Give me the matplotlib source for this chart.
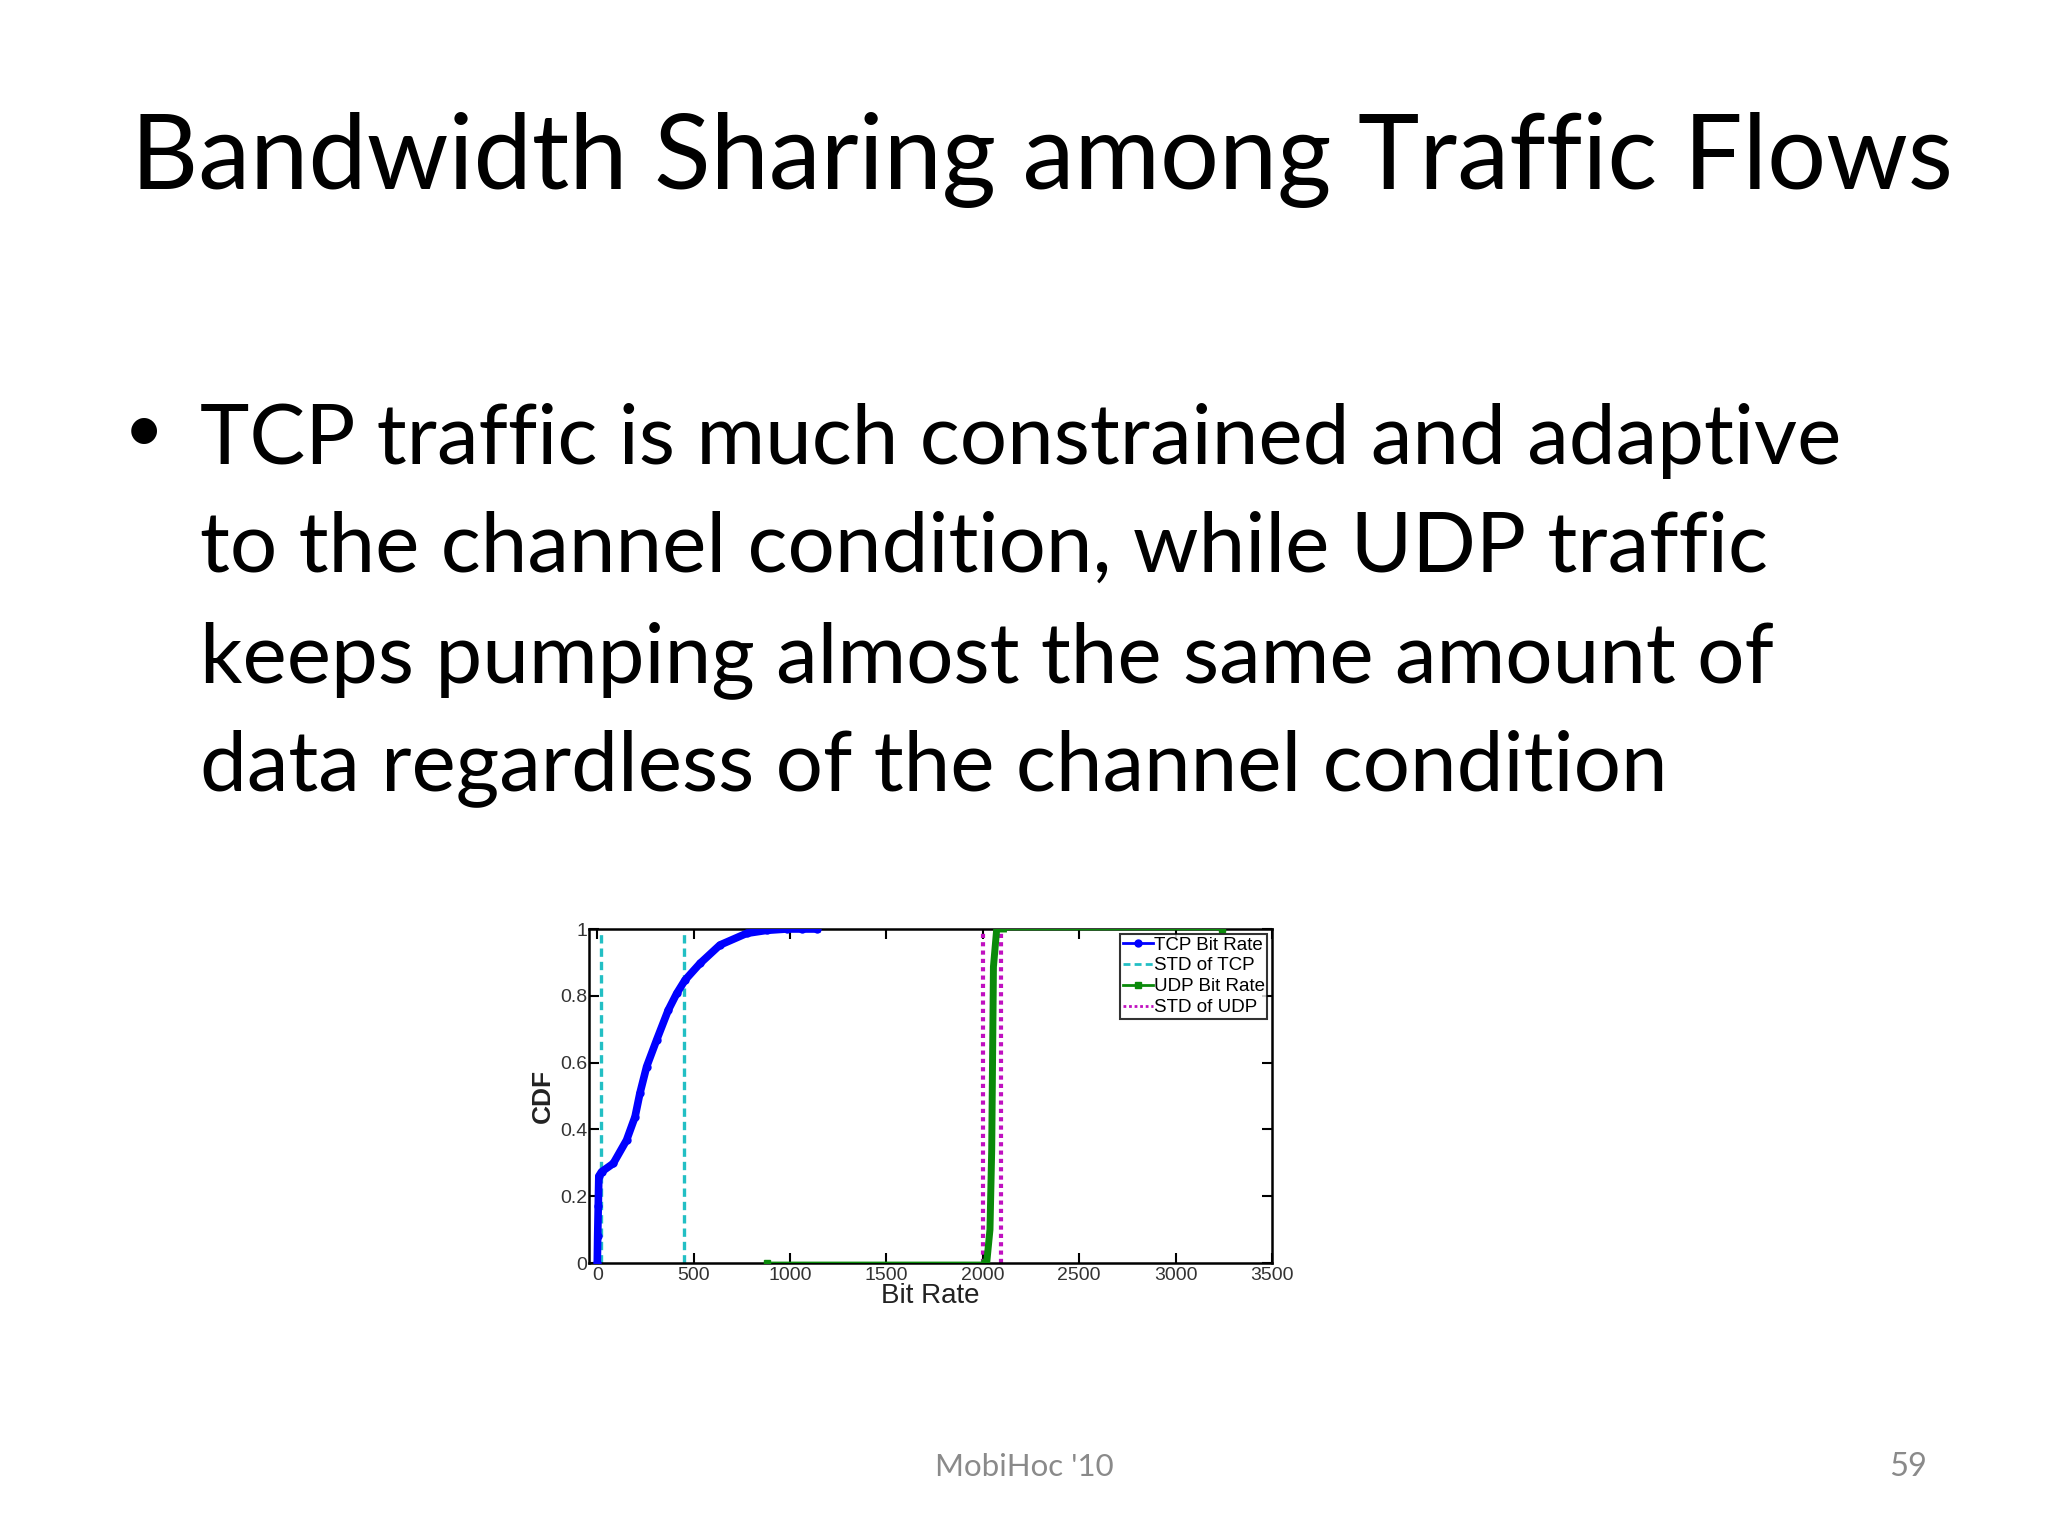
import matplotlib
matplotlib.use("Agg")
import matplotlib.pyplot as plt

# ---- data ----
tcp_x = [0, 2, 5, 8, 22, 83, 152, 196, 221, 256, 308, 368, 412, 455, 533, 636, 775, 879, 982, 1060, 1138]
tcp_y = [0.0, 0.08, 0.17, 0.26, 0.273, 0.298, 0.368, 0.438, 0.508, 0.588, 0.668, 0.757, 0.807, 0.847, 0.897, 0.952, 0.987, 0.996, 1.0, 1.0, 1.0]
tcp_std = [20, 450]
udp_x = [880, 2010, 2020, 2037, 2046, 2055, 2072, 2107, 3240]
udp_y = [0.0, 0.0, 0.0, 0.10, 0.34, 0.887, 1.0, 1.0, 1.0]
udp_std = [2002, 2092]
x_ticks = [0, 500, 1000, 1500, 2000, 2500, 3000, 3500]
y_ticks = [0, 0.2, 0.4, 0.6, 0.8, 1.0]
y_ticklabels = ["0", "0.2", "0.4", "0.6", "0.8", "1"]

title = "Bandwidth Sharing among Traffic Flows"
bullet_lines = ["TCP traffic is much constrained and adaptive",
                "to the channel condition, while UDP traffic",
                "keeps pumping almost the same amount of",
                "data regardless of the channel condition"]
footer = "MobiHoc '10"
page = "59"

W, H = 2048, 1536
fig = plt.figure(figsize=(W / 100, H / 100), dpi=100)
fig.patch.set_facecolor("white")

slide_font = ["Lato", "DejaVu Sans"]
fig.text(131 / W, 1 - 189 / H, title, fontsize=75, family=slide_font, va="baseline", ha="left")
baselines = [464, 572, 682, 790]
fig.text(124 / W, 1 - 452 / H, "\u2022", fontsize=50, family=slide_font, va="baseline", ha="left")
for yb, line in zip(baselines, bullet_lines):
    fig.text(200 / W, 1 - yb / H, line, fontsize=60.2, family=slide_font, va="baseline", ha="left")
fig.text(1024 / W, 1 - 1476 / H, footer, fontsize=22.5, family=slide_font, color="#8a8a8a", va="baseline", ha="center")
fig.text(1908 / W, 1 - 1476 / H, page, fontsize=23.5, family=slide_font, color="#8a8a8a", va="baseline", ha="center")

# ---- chart ----
tick_font = ["Liberation Sans Narrow", "Liberation Sans", "DejaVu Sans"]
ax = fig.add_axes([589 / W, 1 - 1263 / H, 683 / W, 334 / H])
ax.plot(tcp_x, tcp_y, color="#0000ff", lw=5.5, marker=".", ms=10, label="TCP Bit Rate", zorder=3)
for i, v in enumerate(tcp_std):
    ax.axvline(v, color="#22bfc4", ls=(0, (2.5, 1.5)), lw=2.4, label="STD of TCP" if i == 0 else None, zorder=2)
ax.plot(udp_x, udp_y, color="#0a8a0a", lw=2, marker="s", ms=5, markevery=[0, len(udp_x) - 1], label="UDP Bit Rate", zorder=4)
ax.plot(udp_x[1:-1], udp_y[1:-1], color="#0a8a0a", lw=5, zorder=4)
for i, v in enumerate(udp_std):
    ax.axvline(v, color="#c010c0", ls=(0, (1, 1)), lw=3, label="STD of UDP" if i == 0 else None, zorder=2)

ax.set_xlim(-43, 3500)
ax.set_ylim(0, 1)
ax.set_xticks(x_ticks)
ax.set_yticks(y_ticks)
ax.set_yticklabels(y_ticklabels)
ax.tick_params(direction="in", length=7, width=1.5, top=True, right=True, pad=3, labelsize=14)
ax.tick_params(axis="y", pad=1)
for lab in ax.get_xticklabels() + ax.get_yticklabels():
    lab.set_family(tick_font)
    lab.set_color("#333333")
for s in ax.spines.values():
    s.set_linewidth(1.8)
ax.set_xlabel("Bit Rate", fontsize=20, family=["Liberation Sans", "DejaVu Sans"], labelpad=-1, color="#222222")
ax.set_ylabel("CDF", fontsize=19, fontweight="bold", family=["Liberation Sans", "DejaVu Sans"], labelpad=4, color="#222222")

leg = ax.legend(loc="upper right", prop={"family": tick_font, "size": 13.5},
                frameon=True, fancybox=False, edgecolor="black", borderpad=0.15,
                labelspacing=0.2, handlelength=1.6, handletextpad=0.05, borderaxespad=0.25)
leg.get_frame().set_linewidth(1.5)
for h in leg.get_lines():
    h.set_linewidth(2)

fig.savefig("out.png", dpi=100, facecolor="white")
